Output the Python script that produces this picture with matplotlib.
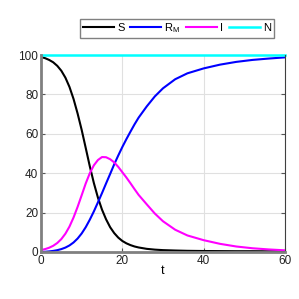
import matplotlib
matplotlib.use("Agg")
import matplotlib.pyplot as plt

t = [0, 1, 2, 3, 4, 5, 6, 7, 8, 9, 10, 11, 12, 13, 14, 15, 16, 17, 18, 19, 20, 21, 22, 23, 24,
     26, 28, 30, 33, 36, 40, 44, 48, 52, 56, 60]
S = [99.0, 98.4, 97.5, 96.3, 94.5, 92.0, 88.5, 83.8, 77.7, 70.3, 62.0, 52.8, 43.5, 35.0, 27.6,
     21.5, 16.6, 12.6, 9.6, 7.3, 5.6, 4.4, 3.5, 2.8, 2.3,
     1.6, 1.2, 0.95, 0.75, 0.6, 0.5, 0.45, 0.4, 0.4, 0.35, 0.35]
I = [1.0, 1.47, 2.16, 3.15, 4.57, 6.56, 9.29, 12.9, 17.5, 22.9, 28.8, 34.8, 40.0, 44.0, 46.7,
     48.2, 48.1, 47.1, 45.5, 43.2, 40.5, 37.8, 34.9, 31.9, 29.0,
     24.2, 19.5, 15.6, 11.3, 8.4, 6.0, 4.15, 2.8, 1.9, 1.3, 0.85]
RM = [0.0, 0.12, 0.3, 0.55, 0.93, 1.47, 2.24, 3.33, 4.83, 6.83, 9.4, 12.6, 16.4, 20.6, 25.2,
      29.9, 34.8, 39.6, 44.5, 49.0, 53.3, 57.3, 61.1, 64.8, 68.2,
      73.9, 79.0, 83.1, 87.7, 90.7, 93.2, 95.1, 96.5, 97.5, 98.2, 98.8]
N = [100.0] * len(t)

plt.rcParams['font.family'] = ['Liberation Sans', 'DejaVu Sans']

fig = plt.figure(figsize=(2.99, 2.99), dpi=100)
ax = fig.add_axes([41/299, 47/299, 244/299, 197/299])

ax.plot(t, S, color='black', lw=1.5, label='S')
ax.plot(t, RM, color='#0000ff', lw=1.5, label=r'$\mathregular{R_M}$')
ax.plot(t, I, color='#ff00ff', lw=1.5, label='I')
ax.plot(t, N, color='#00ffff', lw=1.8, label='N', clip_on=False)

ax.set_xlim(0, 60)
ax.set_ylim(0, 100)
ax.set_xticks([0, 20, 40, 60])
ax.set_yticks([0, 20, 40, 60, 80, 100])
ax.grid(True, color='#e0e0e0', lw=0.8)
ax.set_axisbelow(True)
ax.tick_params(direction='in', length=3, labelsize=8.5, colors='#555555', labelcolor='#222222', right=True, pad=2)
for side in ['left', 'bottom']:
    ax.spines[side].set_color('#808080')
    ax.spines[side].set_linewidth(2)
ax.spines['right'].set_color('#404040')
ax.spines['right'].set_linewidth(0.8)
ax.spines['top'].set_visible(False)
ax.set_xlabel('t', fontsize=9, labelpad=-1)

leg = fig.legend(loc='upper center', bbox_to_anchor=(177/299, 1 - 13/299), ncol=4,
                 fontsize=8, handlelength=2.8, handletextpad=0.3, columnspacing=0.5,
                 frameon=True, fancybox=False, edgecolor='#606060', borderpad=0.25)
leg.get_frame().set_linewidth(1.0)

fig.savefig('out.png', dpi=100)
